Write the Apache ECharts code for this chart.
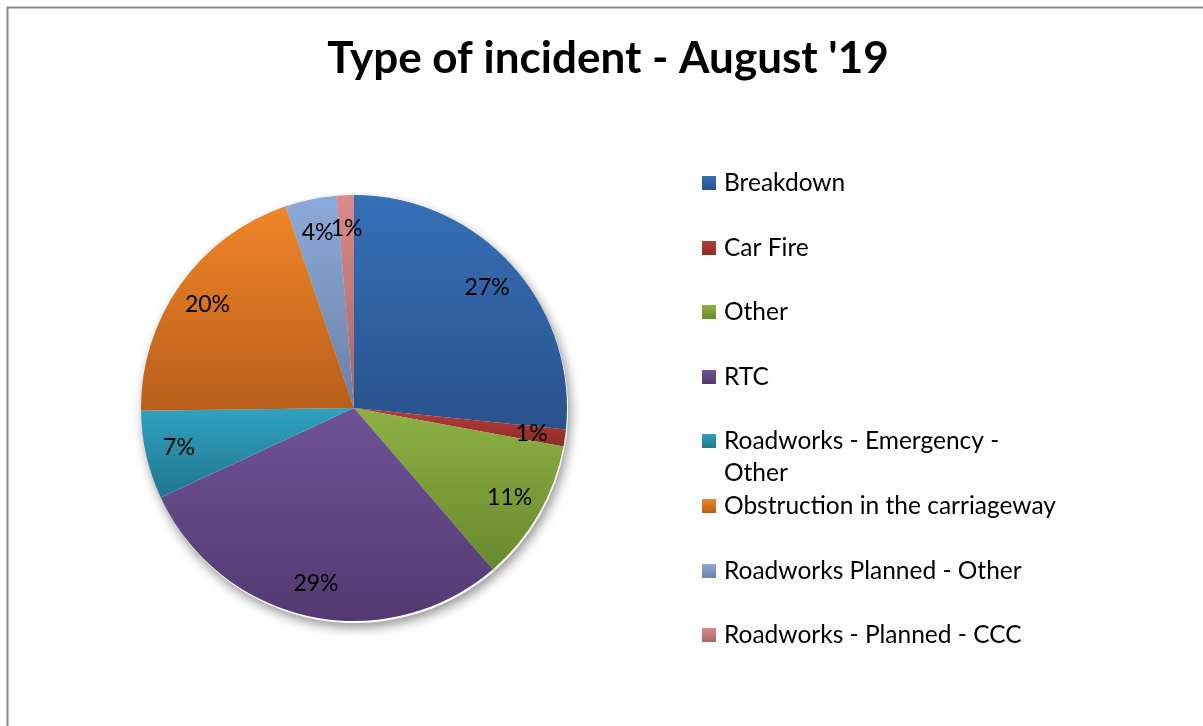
<!DOCTYPE html>
<html>
<head>
<meta charset="utf-8">
<script src="https://cdn.jsdelivr.net/npm/echarts@6/dist/echarts.min.js"></script>
<style>
html,body{margin:0;padding:0;background:#fff;}
#chart{width:1203px;height:726px;}
</style>
</head>
<body>
<div id="chart"></div>
<script>
const titleText = "Type of incident - August '19";
const categories = [
  'Breakdown',
  'Car Fire',
  'Other',
  'RTC',
  'Roadworks - Emergency - Other',
  'Obstruction in the carriageway',
  'Roadworks Planned - Other',
  'Roadworks - Planned - CCC'
];
const values = [26.6, 1.3, 10.8, 29.4, 6.7, 20.0, 3.9, 1.3];
const colorsTop = ['#3670B8', '#B43C38', '#8DB144', '#705297', '#2FA2C0', '#F08628', '#8CAADA', '#DA8A8A'];
const colorsBottom = ['#28528A', '#8E2C29', '#68892E', '#523A70', '#22758E', '#B85E1A', '#6A81A8', '#A66767'];

const FONT = 'Lato';
const chart = echarts.init(document.getElementById('chart'));

function grad(i) {
  return new echarts.graphic.LinearGradient(0, 0, 0, 1, [
    { offset: 0, color: colorsTop[i] },
    { offset: 1, color: colorsBottom[i] }
  ]);
}

const mainData = categories.map((n, i) => ({ name: n, value: values[i], itemStyle: { color: grad(i) } }));
const shadowData = categories.map((n, i) => ({ name: n, value: values[i] }));
const labelData = categories.map((n, i) => ({ name: n, value: values[i] }));

const legendCenters = [183, 248, 312, 377, 441, 506, 571, 635];
const legends = categories.map((n, i) => {
  const wrapped = n === 'Roadworks - Emergency - Other';
  return {
    data: [n],
    orient: 'vertical',
    left: 702,
    top: wrapped ? legendCenters[i] - 48 : legendCenters[i] - 13,
    itemWidth: 14,
    itemHeight: 14,
    itemGap: 0,
    icon: 'rect',
    selectedMode: false,
    formatter: wrapped ? ' \nRoadworks - Emergency -\nOther' : '{name}',
    textStyle: wrapped
      ? { fontFamily: FONT, fontSize: 24.5, color: '#000', lineHeight: 32, padding: [0, 0, 0, 3] }
      : { fontFamily: FONT, fontSize: 24.5, color: '#000', lineHeight: 26, padding: [0, 0, 0, 3] },
    itemStyle: { borderWidth: 0 },
    padding: 0
  };
});

const center = [354, 408];
const R = 213;

chart.setOption({
  animation: false,
  title: {
    text: titleText,
    left: 603,
    textAlign: 'center',
    top: 32,
    textStyle: { fontFamily: FONT, fontWeight: 'bold', fontSize: 44, color: '#000' }
  },
  legend: legends,
  graphic: [{
    type: 'rect',
    left: 5, top: 5, z: -10,
    shape: { width: 1400, height: 900 },
    style: { fill: 'none', stroke: '#8a8a8a', lineWidth: 2 }
  }],
  series: [
    {
      name: 'main',
      type: 'pie',
      center: center,
      radius: [0, R],
      startAngle: 90,
      clockwise: true,
      z: 3,
      label: { show: false },
      labelLine: { show: false },
      emphasis: { disabled: true },
      itemStyle: { borderWidth: 0 },
      data: mainData
    },
    {
      name: 'shadow',
      type: 'pie',
      center: [center[0] + 1, center[1] + 2],
      radius: [0, R],
      startAngle: 90,
      clockwise: true,
      z: 1,
      silent: true,
      label: { show: false },
      labelLine: { show: false },
      emphasis: { disabled: true },
      itemStyle: { color: '#fff', borderWidth: 0, shadowBlur: 12, shadowColor: 'rgba(0,0,0,0.45)', shadowOffsetX: 2, shadowOffsetY: 4 },
      data: shadowData
    },
    {
      name: 'labels',
      type: 'pie',
      center: center,
      radius: [140, R],
      startAngle: 90,
      clockwise: true,
      z: 5,
      silent: true,
      avoidLabelOverlap: false,
      labelLayout: { hideOverlap: false },
      itemStyle: { color: 'rgba(0,0,0,0)', borderWidth: 0 },
      emphasis: { disabled: true },
      labelLine: { show: false },
      label: {
        show: true,
        position: 'inside',
        fontFamily: FONT,
        fontSize: 23,
        color: '#000',
        formatter: p => Math.round(p.percent) + '%'
      },
      data: labelData
    }
  ]
});
</script>
</body>
</html>
